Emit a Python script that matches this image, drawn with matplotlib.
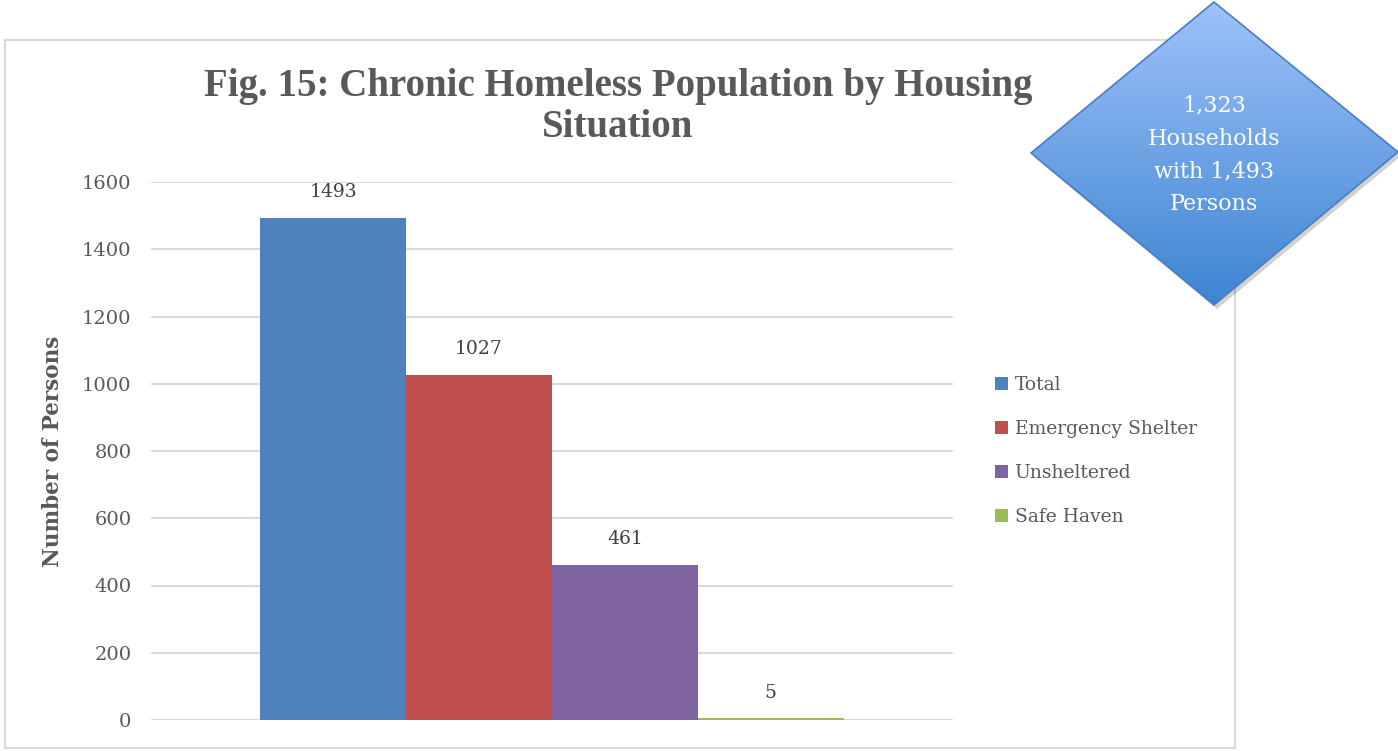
import numpy as np
import matplotlib.pyplot as plt
from matplotlib.patches import Polygon, Rectangle

# data
series = ['Total', 'Emergency Shelter', 'Unsheltered', 'Safe Haven']
values = [1493, 1027, 461, 5]
colors = ['#4F81BD', '#C0504D', '#8064A2', '#9BBB59']
y_ticks = [0, 200, 400, 600, 800, 1000, 1200, 1400, 1600]
title = 'Fig. 15: Chronic Homeless Population by Housing\nSituation'
callout = '1,323\nHouseholds\nwith 1,493\nPersons'

W, H = 1398, 751
SERIF = ['DejaVu Serif']
TITLE_FONT = ['Liberation Serif', 'DejaVu Serif']
GRAY = '#595959'


def px(x, y):
    # pixel coords (top-left origin) -> figure fraction
    return x / W, 1 - y / H


def main():
    fig = plt.figure(figsize=(W / 100, H / 100), dpi=100)
    fig.patch.set_facecolor('white')

    # chart border
    fig.patches.append(Rectangle(px(5, 748), 1230 / W, 708 / H, transform=fig.transFigure,
                                 fill=False, edgecolor='#D9D9D9', linewidth=1.5))

    ax = fig.add_axes([151 / W, 31 / H, 802 / W, 538 / H])
    gap = 0.75
    xs = gap + 0.5 + np.arange(len(values))
    bars = ax.bar(xs, values, width=1.0, color=colors, label=series, zorder=3)
    for x, v in zip(xs, values):
        ax.text(x, v + 50, str(v), ha='center', va='bottom', fontsize=13.5,
                family=SERIF, color='#404040')

    ax.set_xlim(0, len(values) + 2 * gap)
    ax.set_ylim(0, 1600)
    ax.set_yticks(y_ticks)
    ax.set_yticklabels([str(t) for t in y_ticks], family=SERIF, fontsize=14, color=GRAY)
    ax.set_xticks([])
    ax.tick_params(axis='y', length=0, pad=14)
    ax.grid(axis='y', color='#D9D9D9', linewidth=1.5, zorder=0)
    for s in ax.spines.values():
        s.set_visible(False)
    ax.set_ylabel('Number of Persons', family=SERIF, fontsize=15.5, fontweight='bold',
                  color=GRAY)
    ax.yaxis.set_label_coords(-0.108, 0.5)

    fig.text(*px(618, 107), title, ha='center', va='center', family=TITLE_FONT,
             fontsize=28, fontweight='bold', color=GRAY, linespacing=1.15)

    handles = [bars[i] for i in range(len(series))]
    fig.legend(handles, series, loc='center left', bbox_to_anchor=px(978, 451),
               frameon=False, prop={'family': SERIF, 'size': 13.5},
               handlelength=0.7, handleheight=0.7, handletextpad=0.35,
               labelspacing=1.4, labelcolor=GRAY)

    # diamond callout
    ov = fig.add_axes([0, 0, 1, 1], zorder=10)
    ov.set_xlim(0, W)
    ov.set_ylim(H, 0)
    ov.axis('off')
    ov.patch.set_alpha(0)
    pts = [(1214, 2), (1398, 152), (1214, 305), (1031, 153)]
    shadow = Polygon([(x + 3, y + 4) for x, y in pts], closed=True,
                     facecolor='#000000', alpha=0.18, edgecolor='none')
    ov.add_patch(shadow)
    poly = Polygon(pts, closed=True, facecolor='none', edgecolor='#4A7EC0', linewidth=1.2)
    ov.add_patch(poly)
    top = np.array([0.62, 0.76, 0.98])
    bot = np.array([0.24, 0.52, 0.82])
    t = np.linspace(0, 1, 256)[:, None]
    grad = (top[None, :] * (1 - t) + bot[None, :] * t)[:, None, :]
    im = ov.imshow(grad, extent=(1031, 1398, 305, 2), aspect='auto', zorder=1)
    im.set_clip_path(poly)
    poly.set_zorder(2)
    ov.text(1214, 155, callout, ha='center', va='center', family=SERIF,
            fontsize=16, color='white', linespacing=1.63, zorder=3)
    ov.set_xlim(0, W)
    ov.set_ylim(H, 0)

    fig.savefig('out.png', dpi=100)


if __name__ == "__main__":
    main()
